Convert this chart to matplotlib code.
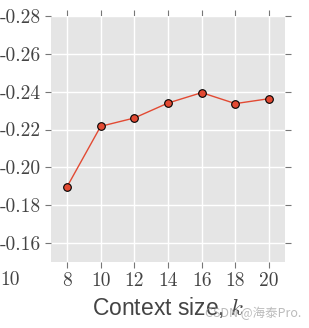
import matplotlib
matplotlib.use("Agg")
import matplotlib.pyplot as plt

k_values = [8, 10, 12, 14, 16, 18, 20]
scores = [-0.1897, -0.2217, -0.2261, -0.2340, -0.2395, -0.2337, -0.2363]
y_ticks = [-0.28, -0.26, -0.24, -0.22, -0.20, -0.18, -0.16]
x_ticks = [8, 10, 12, 14, 16, 18, 20]

plt.rcParams['axes.unicode_minus'] = False
plt.rcParams['mathtext.fontset'] = 'cm'

fig = plt.figure(figsize=(3.09, 3.28), dpi=100)
ax = fig.add_axes([51/309, 1 - 262/328, (285-51)/309, (262-16)/328])
ax.set_facecolor('#E5E5E5')
for s in ax.spines.values():
    s.set_visible(False)

ax.plot(k_values, scores, color='#E24A33', lw=1.0, marker='o', markersize=5.5,
        markerfacecolor='#E24A33', markeredgecolor='black', markeredgewidth=0.8, zorder=3)

ax.set_xlim(7.05, 20.95)
ax.set_ylim(-0.15, -0.28)
ax.set_xticks(x_ticks)
ax.set_yticks(y_ticks)
ax.set_xticklabels([str(v) for v in x_ticks], family='cmr10', fontsize=14, color='#444444')
ax.set_yticklabels([f"{v:.2f}" for v in y_ticks], family='cmr10', fontsize=14, color='#444444')
ax.grid(True, color='white', lw=1.0)
ax.set_axisbelow(True)
ax.tick_params(axis='both', direction='out', length=4, width=0.8, color='#777777',
               top=True, right=True, pad=3)

ax.set_xlabel(r"Context size, $k$", family='Liberation Sans', fontsize=16.5,
              color='#444444', labelpad=4)

fig.text(0.0, 1 - 280/328, "10", family='cmr10', fontsize=14, color='#444444', va='center', ha='left')
fig.text(0.975, 0.025, "CSDN @海泰Pro.", family=['Noto Sans CJK SC', 'DejaVu Sans'],
         fontsize=9, color='#AAAAAA', ha='right', va='bottom', alpha=0.8)

fig.savefig("out.png", dpi=100)
